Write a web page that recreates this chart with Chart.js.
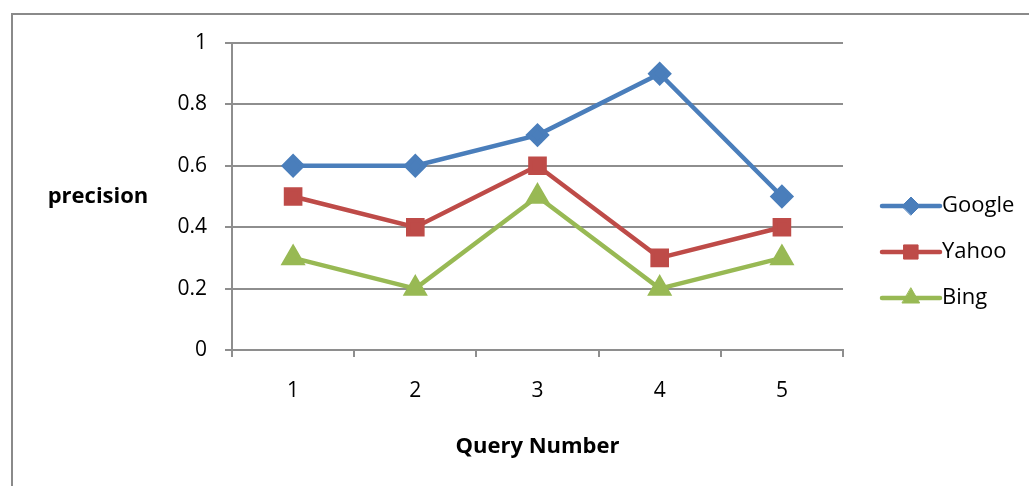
<!DOCTYPE html>
<html>
<head>
<meta charset="utf-8">
<script src="https://cdn.jsdelivr.net/npm/chart.js@4.4.0/dist/chart.umd.min.js"></script>
<style>
  html, body { margin: 0; padding: 0; background: #fff; }
  #wrap { width: 1029px; height: 486px; }
</style>
</head>
<body>
<div id="wrap"><canvas id="precision-chart"></canvas></div>
<script>
/// -------------- DATA --------------- ///

const queries = ["1", "2", "3", "4", "5"];
const google = [0.6, 0.6, 0.7, 0.9, 0.5];
const yahoo = [0.5, 0.4, 0.6, 0.3, 0.4];
const bing = [0.3, 0.2, 0.5, 0.2, 0.3];
const yTicks = [0, 0.2, 0.4, 0.6, 0.8, 1];

const FONT = "'Open Sans', sans-serif";
const GRID = "#8e8e8e";

/// -------------- PLUGINS --------------- ///

// outer frame + horizontal "precision" label
const framePlugin = {
    id: "frame",
    beforeDraw(chart) {
        const ctx = chart.ctx;
        ctx.save();
        ctx.strokeStyle = "#8a8a8a";
        ctx.lineWidth = 2;
        ctx.strokeRect(12, 14, 1200, 700);
        ctx.restore();
    },
    afterDraw(chart) {
        const ctx = chart.ctx;
        const area = chart.chartArea;
        ctx.save();
        ctx.fillStyle = "#000";
        ctx.font = "bold 22px " + FONT;
        ctx.textAlign = "center";
        ctx.textBaseline = "middle";
        ctx.fillText("precision", 98, (area.top + area.bottom) / 2);
        ctx.restore();
    }
};

// Excel-style legend: line segment with marker in the middle
const legendPlugin = {
    id: "lineLegend",
    afterDraw(chart) {
        const ctx = chart.ctx;
        const x0 = 882, x1 = 940;
        const rows = [206, 252, 298];
        chart.data.datasets.forEach((ds, i) => {
            const y = rows[i];
            ctx.save();
            ctx.strokeStyle = ds.borderColor;
            ctx.fillStyle = ds.borderColor;
            ctx.lineWidth = ds.borderWidth;
            ctx.lineCap = "round";
            ctx.beginPath();
            ctx.moveTo(x0, y);
            ctx.lineTo(x1, y);
            ctx.stroke();
            ctx.lineWidth = 1;
            Chart.helpers.drawPoint(ctx, {
                pointStyle: ds.pointStyle,
                radius: ds.pointRadius,
                borderWidth: 1
            }, (x0 + x1) / 2, y);
            ctx.fillStyle = "#000";
            ctx.font = "22px " + FONT;
            ctx.textAlign = "left";
            ctx.textBaseline = "middle";
            ctx.fillText(ds.label, x1 + 2, y);
            ctx.restore();
        });
    }
};

/// -------------- CHART --------------- ///

function series(label, data, color, style, radius) {
    return {
        label,
        data,
        borderColor: color,
        backgroundColor: color,
        pointBackgroundColor: color,
        pointBorderColor: color,
        borderWidth: 4.5,
        pointStyle: style,
        pointRadius: radius,
        pointHoverRadius: radius,
        tension: 0
    };
}

new Chart(document.getElementById("precision-chart"), {
    type: "line",
    data: {
        labels: queries,
        datasets: [
            series("Google", google, "#4a7ebb", "rectRot", 9),
            series("Yahoo", yahoo, "#be4b48", "rect", 10),
            series("Bing", bing, "#98b954", "triangle", 10)
        ]
    },
    options: {
        responsive: true,
        maintainAspectRatio: false,
        animation: false,
        layout: {
            padding: { left: 0, top: 43, right: 186, bottom: 26 }
        },
        plugins: {
            legend: { display: false },
            tooltip: { enabled: false }
        },
        scales: {
            x: {
                offset: true,
                grid: {
                    offset: true,
                    drawOnChartArea: false,
                    drawTicks: true,
                    tickLength: 7,
                    color: GRID,
                    lineWidth: 2
                },
                border: { color: GRID, width: 2 },
                ticks: {
                    color: "#000",
                    font: { family: FONT, size: 21 },
                    padding: 21
                },
                title: {
                    display: true,
                    text: "Query Number",
                    color: "#000",
                    font: { family: FONT, size: 22, weight: "bold" },
                    padding: { top: 20, bottom: 0 }
                },
                afterFit(scale) { scale.height = 110; }
            },
            y: {
                min: 0,
                max: 1,
                afterBuildTicks(scale) {
                    scale.ticks = yTicks.map(v => ({ value: v }));
                },
                grid: {
                    drawTicks: true,
                    tickLength: 7,
                    color: GRID,
                    lineWidth: 2
                },
                border: { color: GRID, width: 2 },
                ticks: {
                    color: "#000",
                    font: { family: FONT, size: 21 },
                    padding: 18,
                    callback: v => String(Math.round(v * 10) / 10)
                },
                afterFit(scale) { scale.width = 232; }
            }
        }
    },
    plugins: [framePlugin, legendPlugin]
});
</script>
</body>
</html>
